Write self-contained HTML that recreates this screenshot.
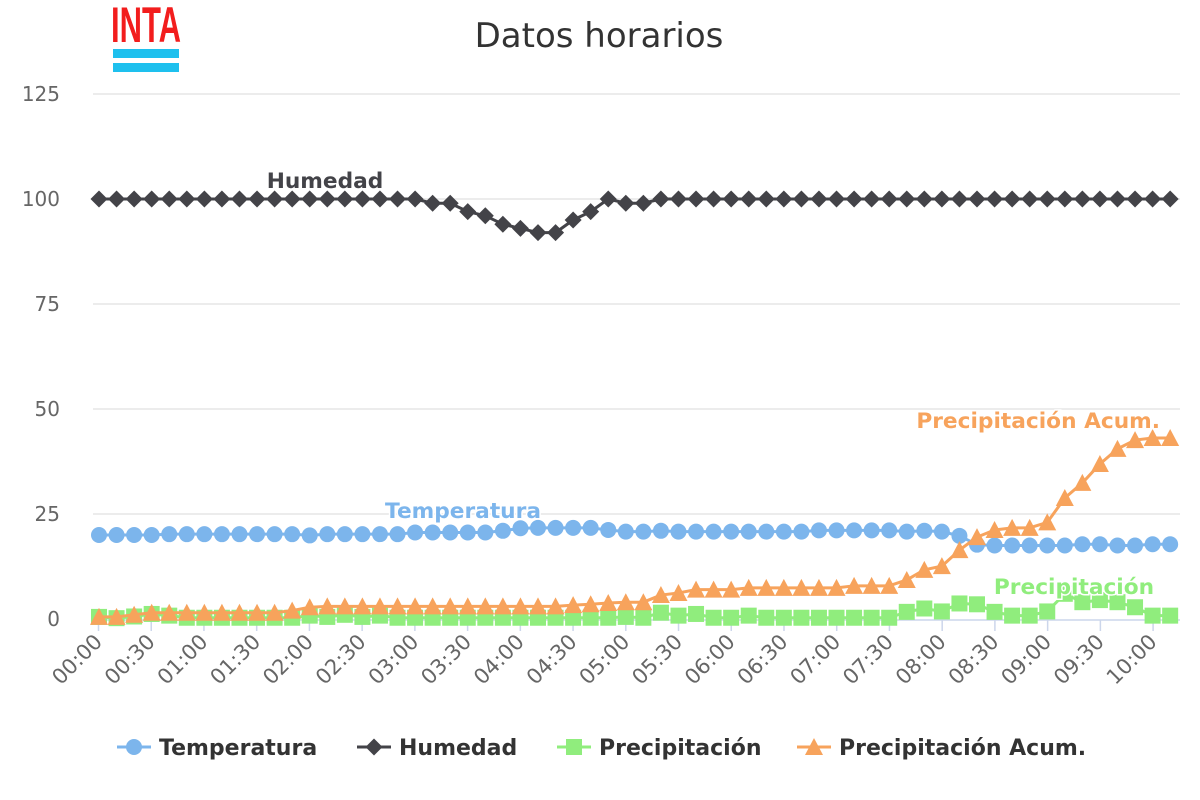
<!DOCTYPE html>
<html><head><meta charset="utf-8"><style>
html,body{margin:0;padding:0;background:#fff;width:1200px;height:800px;overflow:hidden}
svg{display:block;font-family:"DejaVu Sans","Liberation Sans",sans-serif}
</style></head><body>
<svg id="c" width="1200" height="800" xmlns="http://www.w3.org/2000/svg">
<rect width="1200" height="800" fill="#fff"/>
<text x="111" y="42" font-family="Liberation Sans,sans-serif" font-weight="bold" font-size="50" fill="#f21d1d" textLength="70" lengthAdjust="spacingAndGlyphs">INTA</text>
<rect x="113" y="49" width="66" height="9" fill="#1ec0ee"/>
<rect x="113" y="63" width="66" height="9" fill="#1ec0ee"/>
<text x="599" y="47" text-anchor="middle" font-size="34" fill="#333">Datos horarios</text>
<g id="grid"></g>
<g id="series"></g>
</svg>
<script>
const NS="http://www.w3.org/2000/svg";
function el(t,a,p,txt){const e=document.createElementNS(NS,t);for(const k in a)e.setAttribute(k,a[k]);if(txt!==undefined)e.textContent=txt;(p||document.getElementById('c')).appendChild(e);return e;}
const g=document.getElementById('grid'), s=document.getElementById('series');
const Y=v=>619-v*4.2, X=i=>99+i*17.56;
[0,25,50,75,100,125].forEach(v=>{
 if(v>0) el('line',{x1:93,x2:1180,y1:Y(v),y2:Y(v),stroke:'#e6e6e6','stroke-width':1.5},g);
 el('text',{x:60,y:Y(v)+7,'text-anchor':'end','font-size':20,fill:'#666'},g,String(v));
});
el('line',{x1:93,x2:1180,y1:620,y2:620,stroke:'#ccd6eb','stroke-width':1.5},g);
for(let k=0;k<=20;k++){const x=98.5+k*52.73;
 el('line',{x1:x,x2:x,y1:620,y2:631,stroke:'#ccd6eb','stroke-width':1.5},g);
 const h=String(Math.floor(k/2)).padStart(2,'0')+':'+(k%2?'30':'00');
 el('text',{x:x+5,y:643,'text-anchor':'end','font-size':21,fill:'#666',transform:`rotate(-45 ${x+5} 643)`},g,h);
}
const hum=[];for(let i=0;i<62;i++)hum.push(100);
Object.assign(hum,{19:99,20:99,21:97,22:96,23:94,24:93,25:92,26:92,27:95,28:97,29:100,30:99,31:99});
const tem=[20,20,20,20,20.2,20.2,20.2,20.2,20.2,20.2,20.2,20.2,19.9,20.2,20.2,20.2,20.2,20.2,20.6,20.6,20.6,20.6,20.6,21,21.6,21.7,21.7,21.7,21.7,21.2,20.8,20.8,21,20.8,20.8,20.8,20.8,20.8,20.8,20.8,20.8,21.1,21.1,21.1,21.1,21.1,20.8,21,20.8,19.8,17.7,17.5,17.5,17.5,17.5,17.5,17.8,17.8,17.5,17.5,17.8,17.8];
const acc=[0.5,0.5,1,1.5,1.5,1.5,1.5,1.5,1.5,1.5,1.5,2,2.8,3,3,3,3,3,3,3,3,3,3,3,3,3,3,3.3,3.5,3.8,4,4,5.7,6.2,7,7,7,7.4,7.4,7.4,7.4,7.4,7.4,7.9,7.9,7.9,9.3,11.7,12.6,16.4,19.5,21.2,21.7,21.7,23,28.8,32.4,36.9,40.5,42.6,43.1,43.1];
const pre=[0.5,0.2,0.6,1.2,0.8,0.3,0.3,0.3,0.3,0.3,0.3,0.3,0.8,0.5,1,0.5,0.8,0.3,0.3,0.3,0.3,0.3,0.3,0.3,0.3,0.3,0.3,0.3,0.3,0.3,0.5,0.3,1.5,0.8,1.2,0.3,0.3,0.8,0.3,0.3,0.3,0.3,0.3,0.3,0.3,0.3,1.7,2.5,1.8,3.7,3.5,1.7,0.8,0.8,1.8,6,4,4.5,4,2.8,0.8,0.8];
function line(d,c){el('polyline',{points:d.map((v,i)=>X(i)+','+Y(v)).join(' '),fill:'none',stroke:c,'stroke-width':3,'stroke-linejoin':'round'},s);}
const C={t:'#7cb5ec',h:'#434348',p:'#90ed7d',a:'#f7a35c'};
function circ(x,y,c,p){el('circle',{cx:x,cy:y,r:8,fill:c},p||s);}
function dia(x,y,c,p){el('path',{d:`M${x} ${y-8.5}L${x+8.5} ${y}L${x} ${y+8.5}L${x-8.5} ${y}Z`,fill:c},p||s);}
function sq(x,y,c,p){el('rect',{x:x-8,y:y-8,width:16,height:16,fill:c},p||s);}
function tri(x,y,c,p){el('path',{d:`M${x} ${y-9}L${x+9} ${y+8}L${x-9} ${y+8}Z`,fill:c},p||s);}
line(tem,C.t);tem.forEach((v,i)=>circ(X(i),Y(v),C.t));
line(hum,C.h);hum.forEach((v,i)=>dia(X(i),Y(v),C.h));
line(pre,C.p);pre.forEach((v,i)=>sq(X(i),Y(v),C.p));
line(acc,C.a);acc.forEach((v,i)=>tri(X(i),Y(v),C.a));
function lab(x,y,t,c,anc){el('text',{x:x,y:y,'text-anchor':anc||'middle','font-size':21.7,'font-weight':'bold',fill:c,stroke:'#fff','stroke-width':3,'paint-order':'stroke'},s,t);}
lab(325,188,'Humedad',C.h);
lab(463,518,'Temperatura',C.t);
lab(1160,428,'Precipitación Acum.',C.a,'end');
lab(1074,594,'Precipitación',C.p);
const L=[[117,'Temperatura',C.t,circ],[357,'Humedad',C.h,dia],[557,'Precipitación',C.p,sq],[797,'Precipitación Acum.',C.a,tri]];
L.forEach(([x,t,c,f])=>{el('line',{x1:x,x2:x+34,y1:747,y2:747,stroke:c,'stroke-width':3});f(x+17,747,c);
 el('text',{x:x+42,y:755,'font-size':22,'font-weight':'bold',fill:'#333'},null,t);});
</script>
</body></html>
